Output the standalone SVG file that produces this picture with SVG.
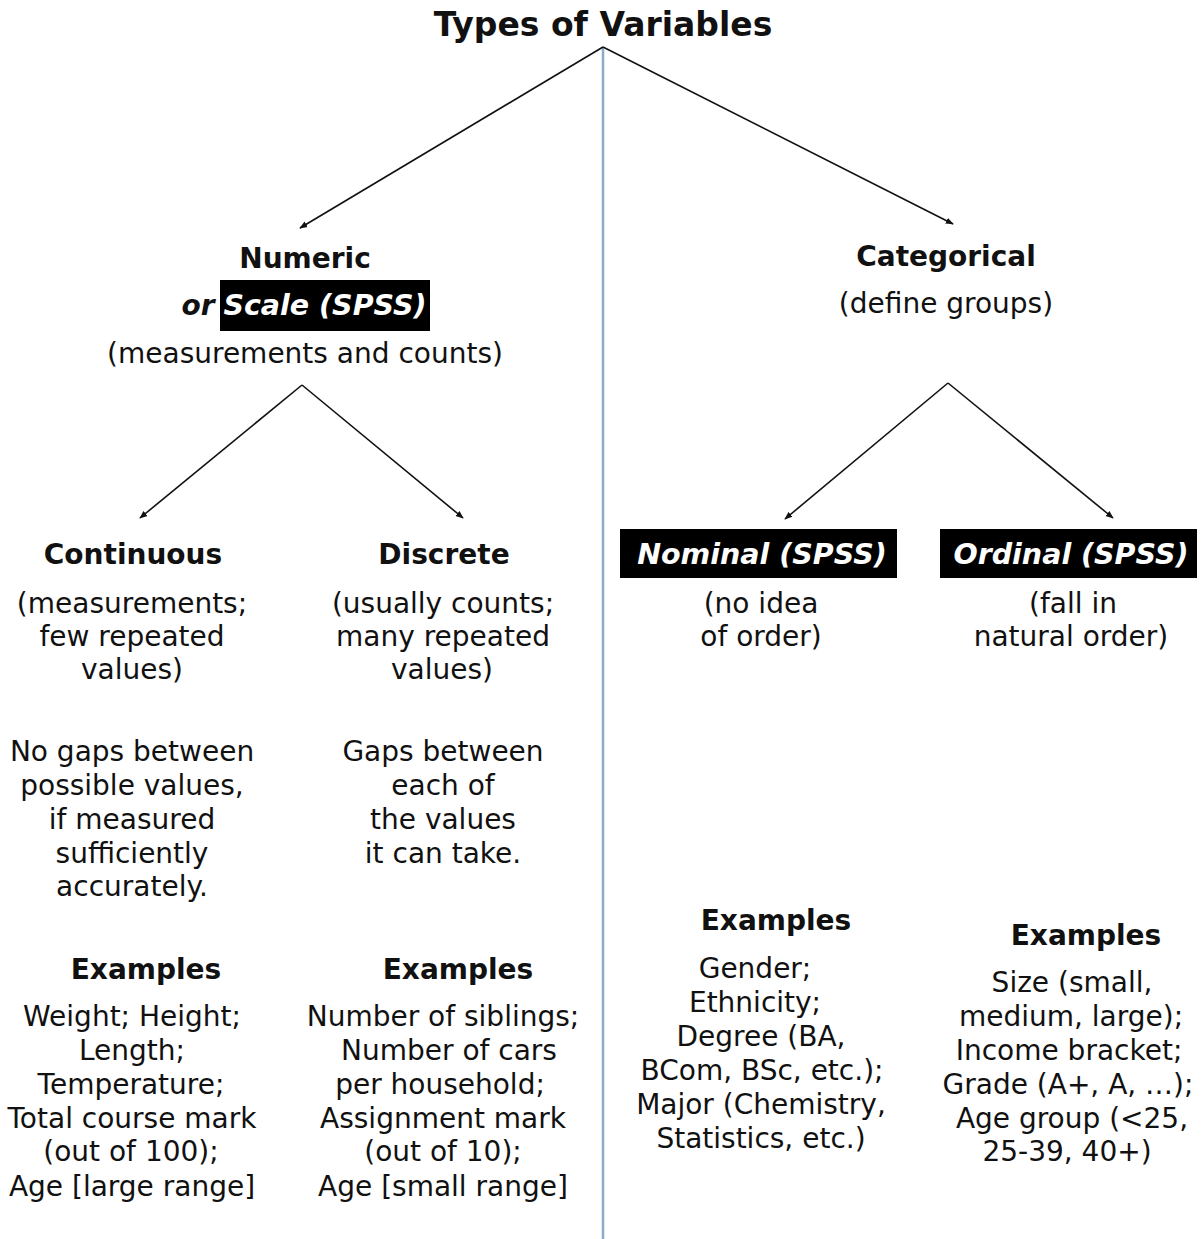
<svg xmlns="http://www.w3.org/2000/svg" width="1201" height="1239" viewBox="0 0 1201 1239">
<defs>
<marker id="ah" viewBox="0 0 10 10" refX="9" refY="5" markerWidth="8" markerHeight="8" orient="auto" markerUnits="userSpaceOnUse">
<path d="M0,1 L10,5 L0,9 Z" fill="#111"/>
</marker>
<style>
text{font-family:"DejaVu Sans",Verdana,sans-serif;fill:#111;text-anchor:middle;font-size:28px}
.b{font-weight:bold}
.t{font-size:33px;font-weight:bold}
.bi{font-weight:bold;font-style:italic;fill:#fff;font-size:28.5px}
.box{fill:#000}
.c{stroke:#111;stroke-width:1.6;fill:none;marker-end:url(#ah)}
</style>
</defs>
<rect width="1201" height="1239" fill="#fff"/>
<line x1="603" y1="48" x2="603" y2="1239" stroke="#8aaccc" stroke-width="2.5"/>
<g id="connectors">
<line class="c" x1="603" y1="47" x2="300" y2="228"/>
<line class="c" x1="603" y1="47" x2="953" y2="224"/>
<line class="c" x1="302" y1="385" x2="140" y2="518"/>
<line class="c" x1="302" y1="385" x2="463" y2="518"/>
<line class="c" x1="948" y1="383" x2="785" y2="519"/>
<line class="c" x1="948" y1="383" x2="1113" y2="518"/>
</g>
<g id="title"><text class="t" x="603" y="36">Types of Variables</text></g>
<g id="numeric">
<text class="b" x="305" y="268">Numeric</text>
<rect class="box" x="220" y="280" width="210" height="51"/>
<text class="b" style="font-style:italic" x="198" y="315">or</text>
<text class="bi" x="325" y="315">Scale (SPSS)</text>
<text x="305" y="363">(measurements and counts)</text>
</g>
<g id="categorical">
<text class="b" x="946" y="266">Categorical</text>
<text x="946" y="313">(define groups)</text>
</g>
<g id="continuous">
<text class="b" x="133" y="564">Continuous</text>
<text x="132" y="613">(measurements;</text>
<text x="132" y="646">few repeated</text>
<text x="132" y="679">values)</text>
<text x="132" y="761">No gaps between</text>
<text x="132" y="795">possible values,</text>
<text x="132" y="829">if measured</text>
<text x="132" y="863">sufficiently</text>
<text x="132" y="896">accurately.</text>
<text class="b" x="146" y="979">Examples</text>
<text x="132" y="1026">Weight; Height;</text>
<text x="132" y="1060">Length;</text>
<text x="131" y="1094">Temperature;</text>
<text x="132" y="1128">Total course mark</text>
<text x="131" y="1161">(out of 100);</text>
<text x="132" y="1196">Age [large range]</text>
</g>
<g id="discrete">
<text class="b" x="444" y="564">Discrete</text>
<text x="443" y="613">(usually counts;</text>
<text x="443" y="646">many repeated</text>
<text x="442" y="679">values)</text>
<text x="443" y="761">Gaps between</text>
<text x="443" y="795">each of</text>
<text x="443" y="829">the values</text>
<text x="443" y="863">it can take.</text>
<text class="b" x="458" y="979">Examples</text>
<text x="443" y="1026">Number of siblings;</text>
<text x="449" y="1060">Number of cars</text>
<text x="440" y="1094">per household;</text>
<text x="443" y="1128">Assignment mark</text>
<text x="443" y="1161">(out of 10);</text>
<text x="443" y="1196">Age [small range]</text>
</g>
<g id="nominal">
<rect class="box" x="620" y="529" width="277" height="49"/>
<text class="bi" x="762" y="564">Nominal (SPSS)</text>
<text x="761" y="613">(no idea</text>
<text x="761" y="646">of order)</text>
<text class="b" x="776" y="930">Examples</text>
<text x="755" y="978">Gender;</text>
<text x="755" y="1012">Ethnicity;</text>
<text x="761" y="1046">Degree (BA,</text>
<text x="762" y="1080">BCom, BSc, etc.);</text>
<text x="761" y="1114">Major (Chemistry,</text>
<text x="761" y="1148">Statistics, etc.)</text>
</g>
<g id="ordinal">
<rect class="box" x="940" y="529" width="257" height="49"/>
<text class="bi" x="1071" y="564">Ordinal (SPSS)</text>
<text x="1073" y="613">(fall in</text>
<text x="1071" y="646">natural order)</text>
<text class="b" x="1086" y="945">Examples</text>
<text x="1072" y="992">Size (small,</text>
<text x="1071" y="1026">medium, large);</text>
<text x="1069" y="1060">Income bracket;</text>
<text x="1068" y="1094">Grade (A+, A, …);</text>
<text x="1072" y="1128">Age group (&lt;25,</text>
<text x="1067" y="1161">25-39, 40+)</text>
</g>
</svg>
